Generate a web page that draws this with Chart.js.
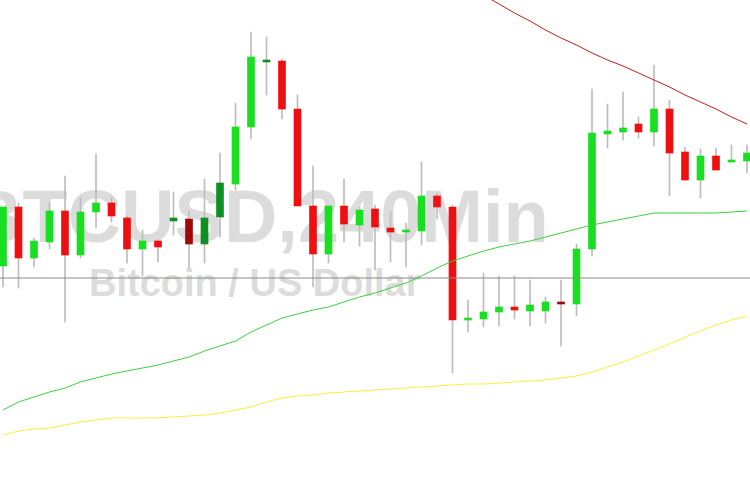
<!DOCTYPE html>
<html>
<head>
<meta charset="utf-8">
<title>BTCUSD 240Min</title>
<script src="https://cdn.jsdelivr.net/npm/chart.js@4.4.1/dist/chart.umd.min.js"></script>
<style>
    body { margin: 0; background: #fff; }
    .wrap { position: relative; width: 750px; height: 500px; overflow: hidden; }
    .mark {
        position: absolute;
        font-family: "Liberation Sans", Arial, sans-serif;
        font-weight: bold;
        color: #dcdcdc;
        white-space: nowrap;
        line-height: 1;
    }
    .symbol { left: -31px; top: 180px; font-size: 74px; }
    .pair { left: 89px; top: 264px; font-size: 38px; }
    canvas { position: absolute; left: 0; top: 0; }
</style>
</head>
<body>
<div class="wrap">
    <div class="mark symbol">BTCUSD,240Min</div>
    <div class="mark pair">Bitcoin / US Dollar</div>
    <canvas class="chart" width="750" height="500"></canvas>
</div>
<script>
// свечи, 4-часовой таймфрейм
let open  = [6734, 6793, 6742, 6758, 6789, 6745, 6788, 6797, 6782, 6751, 6759, 6779, 6781, 6756, 6783, 6816, 6873,
             6938, 6939, 6891, 6794, 6746, 6794, 6775, 6791, 6772, 6768, 6769, 6804, 6793, 6680, 6681, 6688,
             6693, 6689, 6689, 6698, 6696, 6751, 6866, 6868, 6876, 6868, 6891, 6848, 6820, 6844, 6838, 6839];
let high  = [6793, 6797, 6762, 6798, 6824, 6802, 6846, 6802, 6784, 6770, 6760, 6808, 6789, 6821, 6847, 6897, 6968,
             6963, 6941, 6905, 6834, 6794, 6821, 6793, 6795, 6788, 6777, 6838, 6807, 6795, 6700, 6727, 6724,
             6724, 6720, 6703, 6720, 6756, 6911, 6896, 6908, 6883, 6935, 6900, 6853, 6851, 6852, 6855, 6855];
let low   = [6713, 6712, 6733, 6751, 6678, 6742, 6772, 6778, 6737, 6724, 6738, 6765, 6732, 6737, 6763, 6810, 6861,
             6905, 6881, 6794, 6713, 6737, 6758, 6754, 6730, 6738, 6733, 6755, 6781, 6627, 6668, 6673, 6674,
             6681, 6674, 6677, 6654, 6684, 6744, 6852, 6860, 6862, 6854, 6804, 6820, 6802, 6830, 6838, 6827];
let close = [6793, 6742, 6759, 6789, 6745, 6788, 6797, 6784, 6751, 6759, 6753, 6782, 6756, 6782, 6817, 6873, 6943,
             6940, 6891, 6794, 6746, 6794, 6776, 6790, 6773, 6768, 6770, 6804, 6793, 6680, 6682, 6688, 6693,
             6690, 6695, 6698, 6696, 6751, 6867, 6869, 6872, 6868, 6891, 6847, 6820, 6844, 6830, 6840, 6847];

// свечи, которые на графике темнее
let darkBars = [11, 12, 13, 14, 17, 36];

// скользящие средние
let maFast = [6590, 6598, 6603, 6608, 6612, 6618, 6622, 6626, 6629, 6632, 6635, 6639, 6643, 6649, 6654, 6659, 6668,
              6675, 6682, 6686, 6690, 6693, 6698, 6703, 6707, 6712, 6717, 6724, 6732, 6739, 6744, 6749, 6753,
              6756, 6759, 6763, 6767, 6771, 6775, 6778, 6781, 6784, 6787, 6787, 6787, 6787, 6787, 6788, 6789];
let maSlow = [6565, 6569, 6571, 6572, 6575, 6578, 6580, 6582, 6582, 6582, 6582, 6583, 6584, 6585, 6587, 6590, 6593,
              6598, 6602, 6604, 6605, 6607, 6608, 6609, 6610, 6611, 6612, 6613, 6614, 6615, 6616, 6616, 6617,
              6618, 6619, 6620, 6622, 6624, 6628, 6633, 6638, 6644, 6650, 6656, 6663, 6669, 6675, 6680, 6684];
// красная линия видна только справа, начинается с 31-й свечи
let maLongStart = 31;
let maLong = [7005, 6996, 6987, 6979, 6970, 6962, 6955, 6947, 6940, 6934, 6927, 6920, 6913, 6905, 6898, 6891, 6883, 6876];

let levelPrice = 6722;   // горизонтальный уровень

let priceMin = 6500;
let priceMax = 7000;

function draw() {
    let wicks = [];
    let bodies = [];
    let colors = [];
    for (let i = 0; i < open.length; i++) {
        wicks.push({ x: i, y: [low[i], high[i]] });
        bodies.push({ x: i, y: [open[i], close[i]] });
        let up = close[i] >= open[i];
        let dark = darkBars.includes(i);
        if (up) colors.push(dark ? '#0f8f22' : '#18e020');
        else colors.push(dark ? '#a00808' : '#ee1010');
    }

    let fast = maFast.map((v, i) => ({ x: i, y: v }));
    let slow = maSlow.map((v, i) => ({ x: i, y: v }));
    let long = maLong.map((v, i) => ({ x: i + maLongStart, y: v }));
    let last = open.length - 1;
    let level = [{ x: -1, y: levelPrice }, { x: last + 1, y: levelPrice }];

    let line = (data, color, order) => ({
        type: 'line',
        data: data,
        borderColor: color,
        borderWidth: 1,
        pointRadius: 0,
        tension: 0,
        order: order
    });

    // отступ по краям, чтобы первая и последняя свеча не обрезались
    let pad = 3 / 15.5;

    new Chart(document.querySelector('.chart'), {
        type: 'bar',
        data: {
            datasets: [
                { data: wicks, backgroundColor: '#bdbdbd', barThickness: 1, grouped: false, order: 10 },
                { data: bodies, backgroundColor: colors, barThickness: 7, grouped: false, order: 9 },
                line(level, '#8a8a8a', 5),
                line(slow, '#f2f23a', 4),
                line(fast, '#3ccf3c', 3),
                line(long, '#cc1a1a', 2)
            ]
        },
        options: {
            responsive: false,
            animation: false,
            events: [],
            layout: { padding: 0 },
            plugins: { legend: { display: false }, tooltip: { enabled: false } },
            scales: {
                x: { type: 'linear', display: false, offset: false, min: -pad, max: last + pad },
                y: { display: false, min: priceMin, max: priceMax }
            }
        }
    });
}

draw();
</script>
</body>
</html>
